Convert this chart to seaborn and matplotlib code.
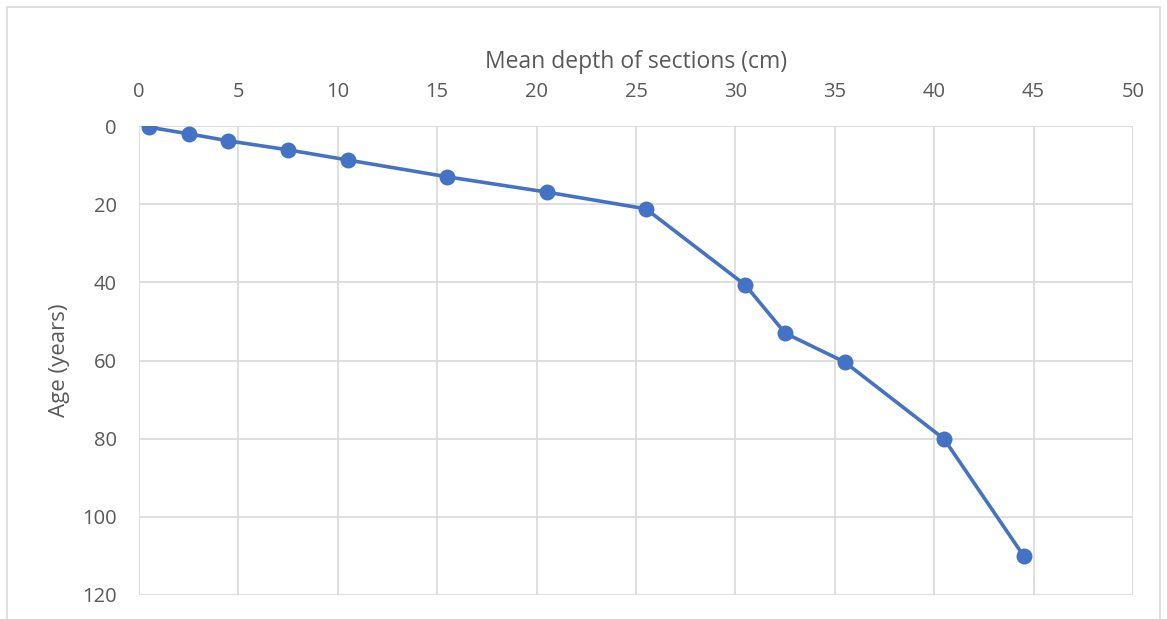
import matplotlib
matplotlib.use("Agg")
import matplotlib.pyplot as plt
import seaborn as sns
import pandas as pd
from matplotlib.patches import Rectangle

depth = [0.5, 2.5, 4.5, 7.5, 10.5, 15.5, 20.5, 25.5, 30.5, 32.5, 35.5, 40.5, 44.5]
age = [0.3, 2.0, 3.8, 6.1, 8.7, 13.0, 16.9, 21.2, 40.7, 53.0, 60.4, 80.1, 110.0]
x_ticks = [0, 5, 10, 15, 20, 25, 30, 35, 40, 45, 50]
y_ticks = [0, 20, 40, 60, 80, 100, 120]

df = pd.DataFrame({"depth": depth, "age": age})

sns.set_theme(style="white")
plt.rcParams['font.family'] = ['Open Sans', 'DejaVu Sans']

fig = plt.figure(figsize=(11.67, 6.19), dpi=100)
fig.patches.append(Rectangle((7/1167, -0.1), (1160-7)/1167, 1.1 - 7/619,
                             transform=fig.transFigure, fill=False,
                             edgecolor='#D9D9D9', linewidth=1.2))
ax = fig.add_axes([139/1167, 1 - 595/619, (1133-139)/1167, (595-126)/619])

sns.lineplot(data=df, x="depth", y="age", ax=ax, color='#4472C4', linewidth=2.6,
             marker='o', markersize=11.5, markeredgewidth=0, sort=False)

ax.set_xlim(0, 50)
ax.set_ylim(120, 0)
ax.set_xticks(x_ticks)
ax.set_yticks(y_ticks)
ax.xaxis.tick_top()
ax.xaxis.set_label_position('top')
ax.grid(True, color='#D9D9D9', linewidth=1.2)
for s in ax.spines.values():
    s.set_visible(False)
ax.tick_params(axis='both', length=0, colors='#595959', labelsize=14.5)
ax.tick_params(axis='x', pad=17)
ax.tick_params(axis='y', pad=16)
ax.set_xlabel("Mean depth of sections (cm)", fontsize=16.5, color='#595959', labelpad=10)
ax.set_ylabel("Age (years)", fontsize=16, color='#595959', labelpad=9)

fig.savefig("out.png", dpi=100)
